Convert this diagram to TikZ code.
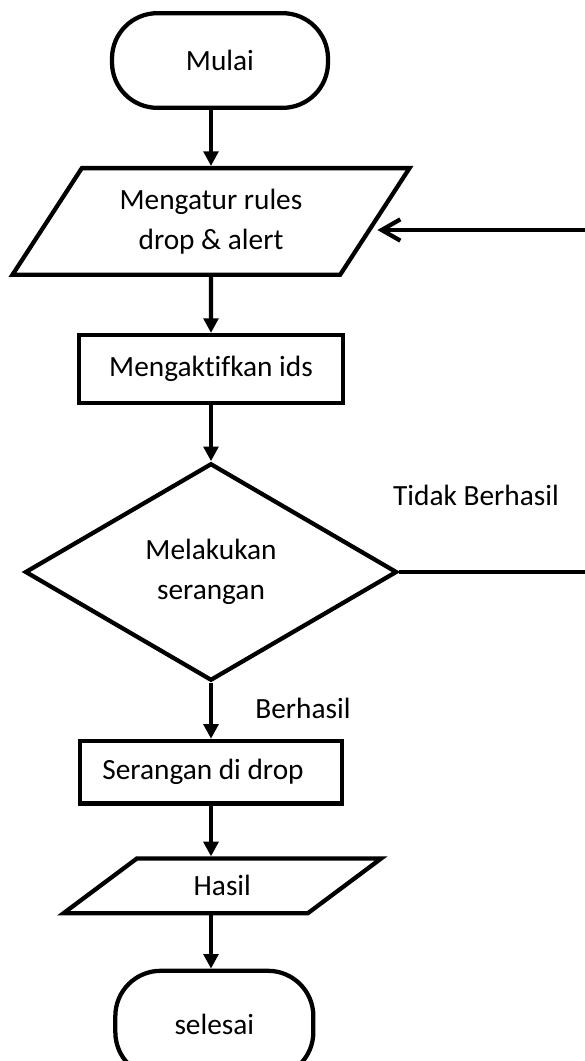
\documentclass[tikz,border=0pt]{standalone}
\usepackage{fontspec}
\setmainfont{Carlito}[Ligatures=NoCommon]
\usetikzlibrary{shapes,arrows.meta,positioning}

\begin{document}
\begin{tikzpicture}[
  x=0.75pt, y=-0.75pt,
  term/.style={rectangle, draw, line width=3.2pt, rounded corners=34pt, minimum width=162pt, minimum height=71pt, align=center},
  io/.style={trapezium, draw, line width=3.2pt, trapezium stretches=true, inner sep=0pt, align=center},
  proc/.style={rectangle, draw, line width=3.2pt, minimum width=198pt, minimum height=51pt, align=center},
  decide/.style={diamond, draw, line width=3.2pt, minimum width=279pt, minimum height=163pt, inner sep=0pt, align=center},
  arrow/.style={-{Triangle[length=11pt,width=11pt]}, line width=3.2pt},
  back/.style={-{Straight Barb[length=14pt,width=16pt]}, line width=3.2pt},
  font=\fontsize{22}{30}\selectfont,
  node distance=42pt
]
  \useasboundingbox (0,0) rectangle (585,1061);

  \node[term] (mulai) at (220,60.5) {Mulai};
  \node[io, trapezium left angle=53, trapezium right angle=127, minimum width=298pt, minimum height=80pt, below=of mulai, xshift=-6.75pt] (rules) {Mengatur rules\\drop \& alert};
  \node[proc, below=of rules] (aktif) {Mengaktifkan ids};
  \node[decide, below=of aktif] (serang) {Melakukan\\serangan};
  \node[proc, minimum width=197pt, minimum height=47pt, below=of serang] (drop) {Serangan di drop\hspace*{12pt}};
  \node[io, trapezium left angle=40, trapezium right angle=140, minimum width=239pt, minimum height=41pt, below=38pt of drop, xshift=8.5pt] (hasil) {Hasil};
  \node[term, minimum width=148.5pt, minimum height=80pt, below=40pt of hasil, xshift=-6pt] (selesai) {selesai};

  \node (tidak) at (476,495) {Tidak Berhasil};
  \node (berhasil) at (303,708) {Berhasil};

  \coordinate (rim) at (585,230);

  \draw[arrow] (mulai.south -| rules.north) -- (rules.north);
  \draw[arrow] (rules) -- (aktif);
  \draw[arrow] (aktif) -- (serang);
  \draw[arrow] (serang) -- (drop);
  \draw[arrow] (drop.south) -- (drop.south |- hasil.north);
  \draw[arrow] (hasil.south -| drop.south) -- (selesai.north -| drop.south);

  % kembali ke pengaturan rules
  \draw[line width=3.2pt] (serang.east) -- (serang.east -| rim);
  \draw[back] (rim) -- (rim -| rules.east);
\end{tikzpicture}
\end{document}
